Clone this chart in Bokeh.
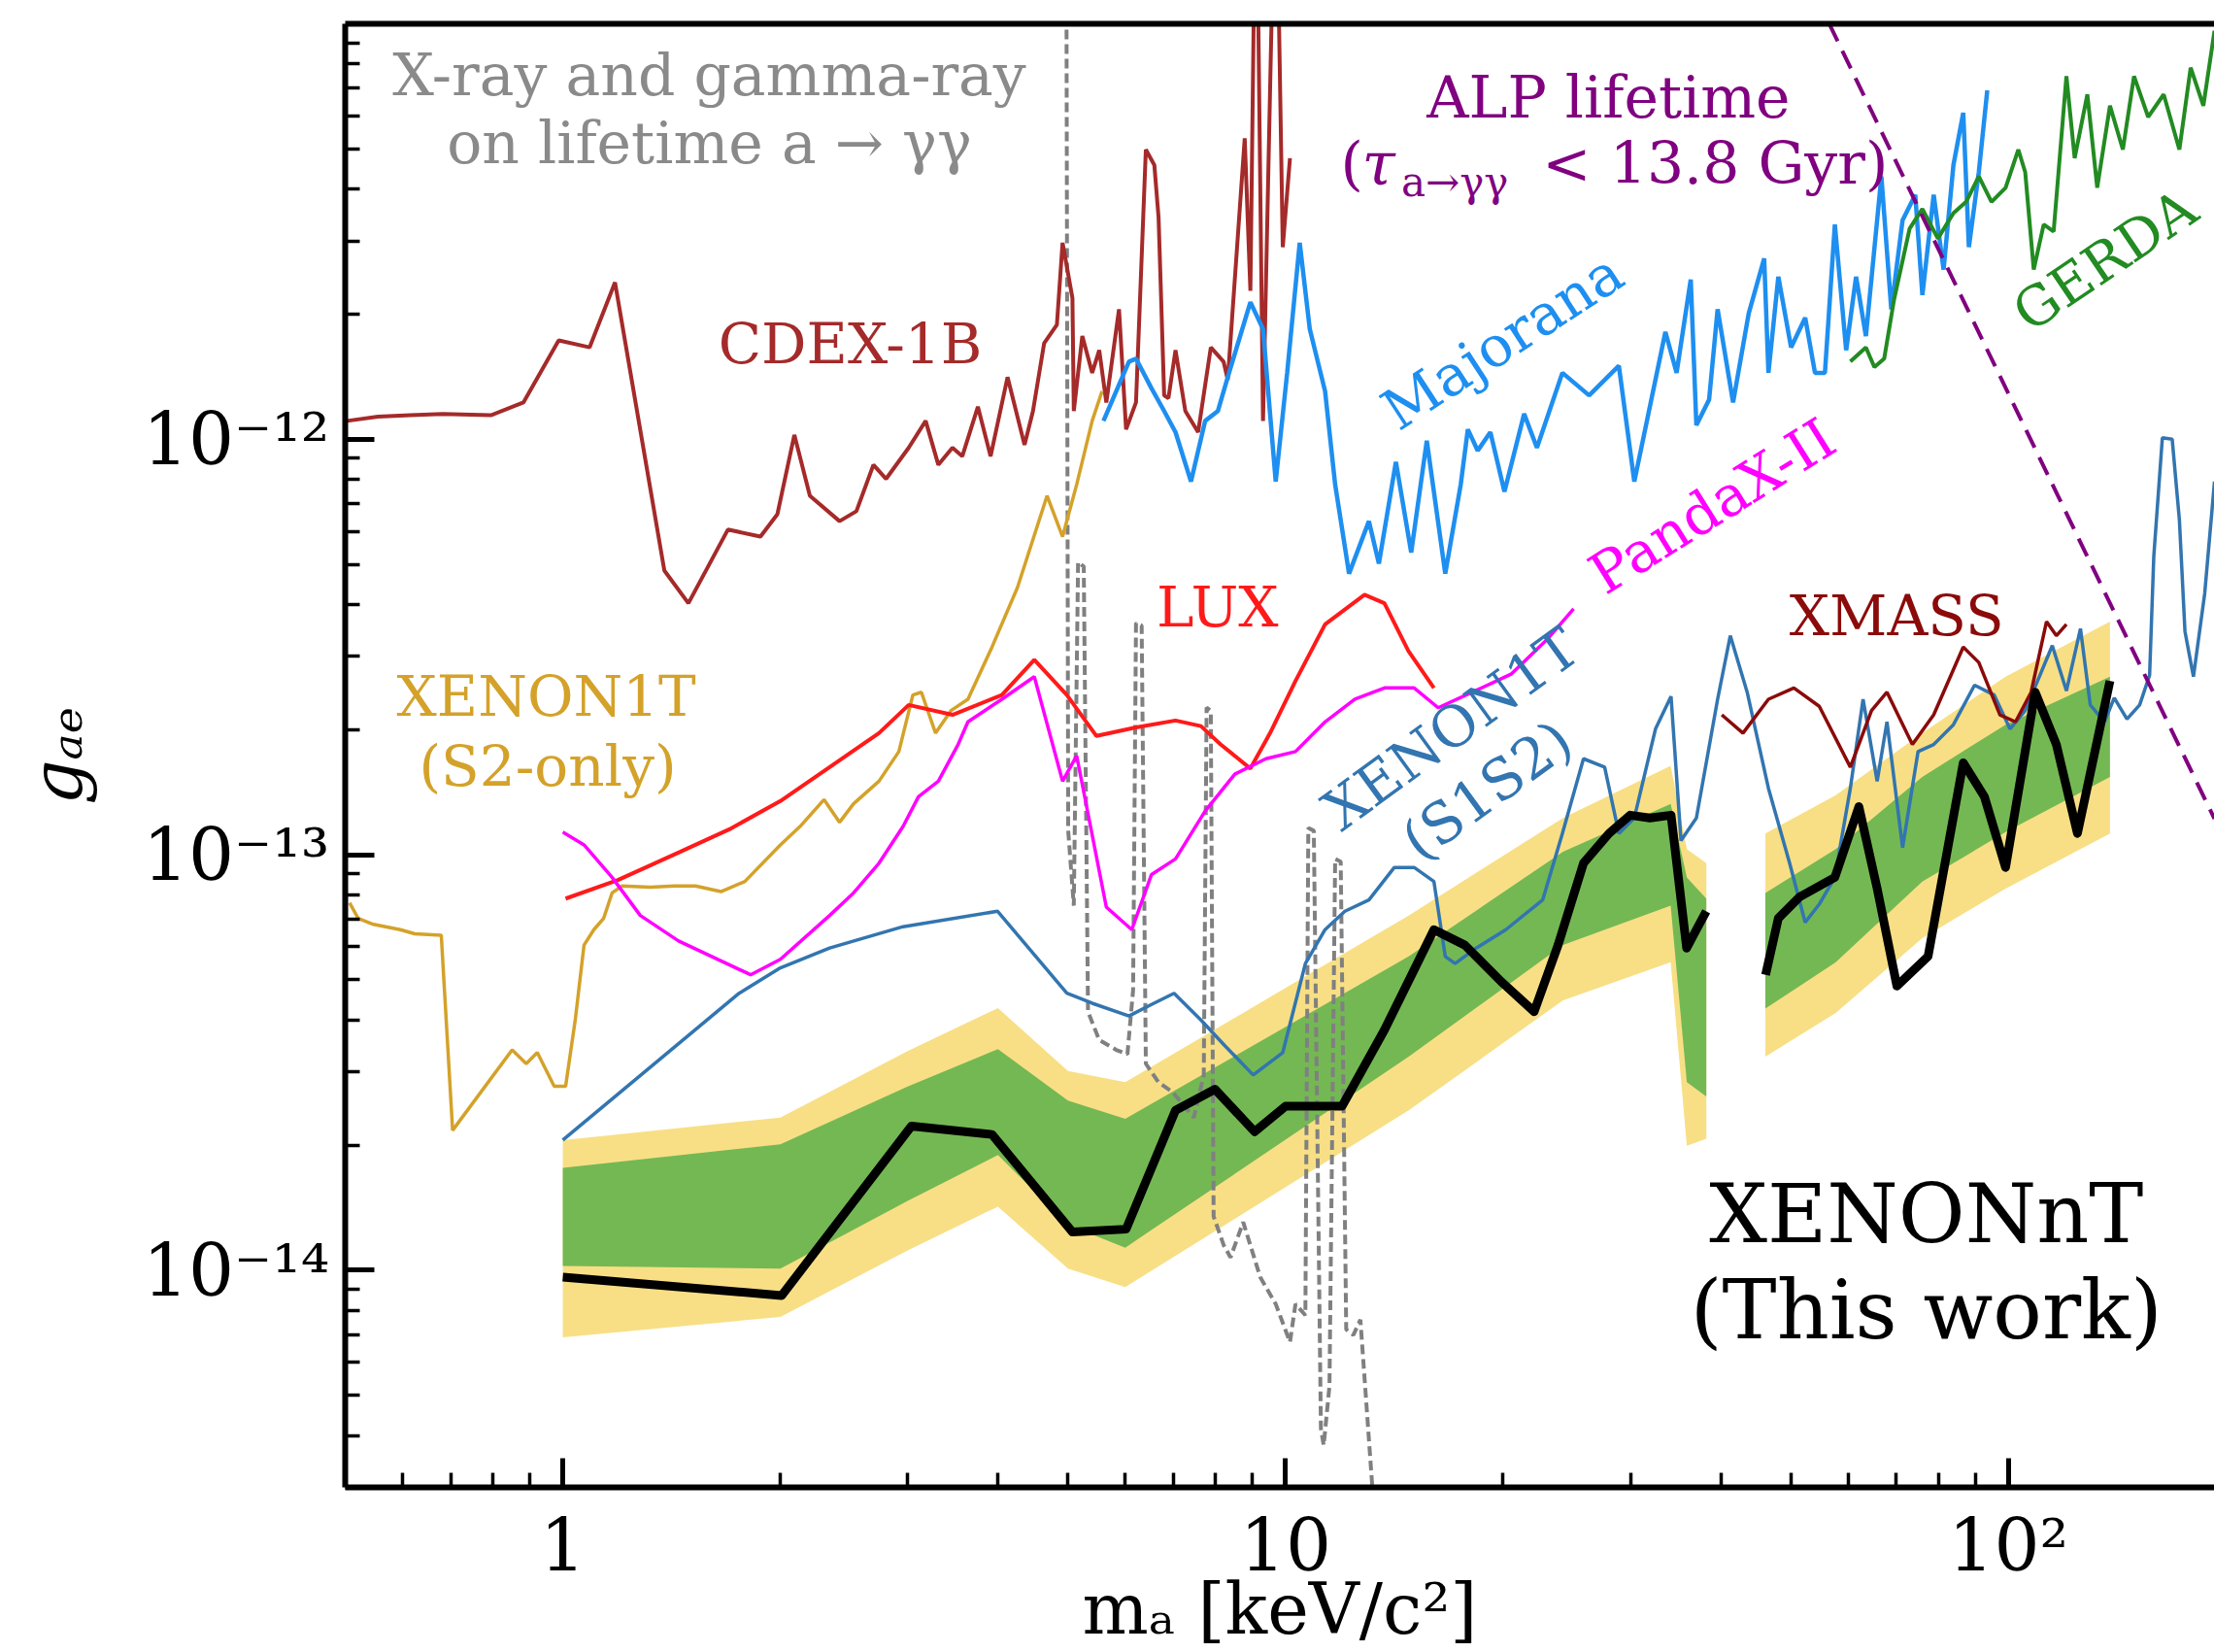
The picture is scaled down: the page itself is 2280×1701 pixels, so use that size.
import math
from bokeh.plotting import figure
from bokeh.models import Label, FixedTicker, CustomJSTickFormatter, LogAxis, Range1d
from bokeh.embed import file_html
from bokeh.resources import INLINE

FONT = "DejaVu Serif"

# ---------------- data (m_a in keV, g_ae) ----------------
CDEX_X = [0.503,0.555,0.615,0.682,0.795,0.882,0.987,1.089,1.181,1.382,1.492,1.692,1.877,1.981,2.091,2.197,2.415,2.548,2.690,2.801,
          3.010,3.177,3.308,3.460,3.570,3.752,3.907,4.124,4.353,4.472,4.634,4.826,4.914,5.071,5.093,5.233,5.400,5.523,5.649,5.882,
          6.016,6.209,6.407,6.583,6.672,6.792,6.885,7.042,7.266,7.568,7.880,8.206,8.317,8.779,8.939,9.101,9.306,9.690,9.910,10.14]
CDEX_Y = [1.107e-12,1.133e-12,1.142e-12,1.151e-12,1.142e-12,1.226e-12,1.730e-12,1.664e-12,2.385e-12,4.83e-13,
          4.03e-13,6.06e-13,5.83e-13,6.60e-13,1.024e-12,7.31e-13,6.35e-13,6.71e-13,8.68e-13,8.03e-13,
          9.54e-13,1.107e-12,8.68e-13,9.54e-13,9.10e-13,1.197e-12,9.10e-13,1.411e-12,9.69e-13,1.169e-12,
          1.703e-12,1.886e-12,2.971e-12,2.188e-12,1.169e-12,1.771e-12,1.445e-12,1.638e-12,1.226e-12,2.055e-12,
          1.056e-12,1.226e-12,4.98e-12,4.57e-12,3.42e-12,1.275e-12,1.255e-12,1.638e-12,1.169e-12,1.040e-12,
          1.664e-12,1.538e-12,1.390e-12,5.30e-12,2.276e-12,3e-11,1.107e-12,3e-11,2.90e-12,4.75e-12]

MAJ_X = [5.598,6.071,6.209,6.524,6.792,7.042,7.398,7.739,8.058,8.317,8.939,9.306,9.690,10.05,10.46,10.80,11.34,11.71,12.24,13.04,
         13.46,14.21,14.92,15.68,16.63,17.47,17.87,18.44,19.20,20.08,21.38,22.27,24.15,26.30,28.91,30.37,33.53,34.75,36.35,37.01,
         38.54,39.60,41.60,43.72,45.93,46.56,48.05,50.04,52.34,54.00,55.74,57.53,59.64,61.55,63.51,66.72,68.86,71.38,74.33,76.03,
         78.82,81.34,83.93,86.60,88.17,91.00,93.49]
MAJ_Y = [1.107e-12,1.538e-12,1.563e-12,1.326e-12,1.169e-12,1.040e-12,7.91e-13,1.107e-12,1.169e-12,1.411e-12,
         2.138e-12,1.842e-12,7.91e-13,1.445e-12,2.971e-12,1.842e-12,1.305e-12,7.78e-13,4.75e-13,6.35e-13,
         5.02e-13,8.82e-13,5.34e-13,9.92e-13,4.75e-13,7.78e-13,1.056e-12,9.39e-13,1.040e-12,7.48e-13,
         1.151e-12,9.54e-13,1.445e-12,1.275e-12,1.503e-12,7.91e-13,1.813e-12,1.445e-12,2.423e-12,1.081e-12,
         1.245e-12,2.055e-12,1.226e-12,2.007e-12,2.725e-12,1.445e-12,2.461e-12,1.664e-12,1.961e-12,1.445e-12,
         1.445e-12,3.289e-12,1.638e-12,2.461e-12,1.771e-12,4.293e-12,2.055e-12,3.367e-12,3.876e-12,2.223e-12,
         3.876e-12,2.560e-12,4.57e-12,6.107e-12,2.90e-12,4.395e-12,6.92e-12]

GERDA_X = [60.44,63.51,65.25,67.32,69.48,73.00,76.03,79.88,83.93,87.40,91.00,94.76,99.10,103.2,105.5,108.4,111.9,115.5,
           120.3,123.5,128.6,132.7,138.2,144.0,149.2,156.1,164.0,172.4,178.7,186.1,192.8]
GERDA_Y = [1.538e-12,1.664e-12,1.491e-12,1.563e-12,2.171e-12,3.213e-12,3.584e-12,3.041e-12,3.501e-12,3.727e-12,
           4.293e-12,3.727e-12,4.031e-12,4.98e-12,4.395e-12,2.560e-12,3.289e-12,3.162e-12,7.48e-12,4.75e-12,
           6.76e-12,4.031e-12,6.35e-12,4.98e-12,7.48e-12,5.965e-12,6.76e-12,4.98e-12,7.84e-12,6.35e-12,9.62e-12]

S2_X = [0.507,0.521,0.545,0.596,0.624,0.679,0.704,0.851,0.890,0.922,0.973,1.009,1.041,1.070,1.104,1.139,1.170,1.208,1.321,1.427,
        1.526,1.655,1.786,2.000,2.129,2.298,2.415,2.525,2.738,2.917,3.050,3.134,3.279,3.444,3.635,3.925,4.256,4.677,4.914,5.140,
        5.400,5.573]
S2_Y = [7.66e-14,7.03e-14,6.81e-14,6.60e-14,6.45e-14,6.40e-14,2.17e-14,3.39e-14,3.14e-14,3.34e-14,
        2.77e-14,2.77e-14,4.03e-14,6.06e-14,6.60e-14,7.03e-14,8.09e-14,8.41e-14,8.35e-14,8.41e-14,
        8.41e-14,8.15e-14,8.62e-14,1.056e-13,1.169e-13,1.357e-13,1.197e-13,1.326e-13,1.503e-13,1.771e-13,
        2.423e-13,2.461e-13,1.962e-13,2.223e-13,2.367e-13,3.162e-13,4.394e-13,7.31e-13,5.83e-13,7.78e-13,
        1.107e-12,1.305e-12]

LUX_X = [1.009,1.192,1.453,1.700,2.000,2.340,2.738,3.010,3.460,4.050,4.491,4.982,5.474,6.209,7.042,7.636,8.131,8.939,9.517,
         10.32,11.34,12.86,13.70,14.79,16.04]
LUX_Y = [7.84e-14,8.69e-14,1.016e-13,1.151e-13,1.346e-13,1.625e-13,1.962e-13,2.293e-13,2.171e-13,2.423e-13,2.946e-13,
         2.423e-13,1.931e-13,2.024e-13,2.104e-13,2.040e-13,1.842e-13,1.612e-13,1.962e-13,2.620e-13,3.584e-13,4.225e-13,
         4.03e-13,3.090e-13,2.520e-13]

PANDAX_X = [1.000,1.070,1.170,1.280,1.446,1.819,2.000,2.340,2.525,2.738,2.956,3.105,3.308,3.523,3.635,4.050,4.491,4.914,
            5.140,5.649,6.126,6.524,7.042,7.739,8.506,9.391,10.32,11.34,12.47,13.70,15.06,16.26,17.95,20.54,22.98,25.03]
PANDAX_Y = [1.133e-13,1.056e-13,8.82e-14,7.14e-14,6.20e-14,5.14e-14,5.60e-14,7.14e-14,8.09e-14,9.54e-14,1.169e-13,
            1.379e-13,1.503e-13,1.842e-13,2.088e-13,2.367e-13,2.683e-13,1.503e-13,1.730e-13,7.48e-14,6.60e-14,8.96e-14,
            9.77e-14,1.274e-13,1.563e-13,1.702e-13,1.771e-13,2.088e-13,2.367e-13,2.520e-13,2.520e-13,2.258e-13,
            2.442e-13,2.725e-13,3.289e-13,3.906e-13]

S1S2_X = [1.000,1.754,2.000,2.340,2.956,3.996,4.982,5.400,6.071,6.524,7.010,7.636,8.241,9.019,9.910,10.65,11.34,12.08,13.04,
          14.14,15.06,16.04,16.63,17.16,18.35,20.17,22.68,24.15,25.83,27.63,28.91,30.37,32.49,34.14,35.24,37.01,39.60,41.23,
          43.51,46.56,49.81,52.34,54.74,57.53,60.44,62.94,65.83,67.92,71.38,74.99,78.82,83.93,89.77,95.60,100.5,105.5,115.0,
          120.3,125.8,129.8,135.8,140.1,145.9,151.9,156.8,158.9,163.3,168.5,172.4,175.5,180.3,186.9,192.8]
S1S2_Y = [2.056e-14,4.64e-14,5.34e-14,5.96e-14,6.71e-14,7.31e-14,4.64e-14,4.39e-14,4.09e-14,4.36e-14,
          4.64e-14,4.00e-14,3.47e-14,2.95e-14,3.34e-14,5.47e-14,6.60e-14,7.31e-14,7.78e-14,9.32e-14,
          9.32e-14,8.62e-14,5.69e-14,5.47e-14,5.96e-14,6.60e-14,7.78e-14,1.125e-13,1.702e-13,1.625e-13,
          1.125e-13,1.226e-13,2.008e-13,2.404e-13,1.081e-13,1.226e-13,2.367e-13,3.366e-13,2.461e-13,1.445e-13,
          9.54e-14,6.87e-14,7.60e-14,8.82e-14,1.445e-13,2.367e-13,1.503e-13,2.088e-13,1.040e-13,1.771e-13,
          1.842e-13,2.056e-13,2.559e-13,2.423e-13,2.008e-13,2.223e-13,3.187e-13,2.480e-13,3.500e-13,2.293e-13,
          2.088e-13,2.385e-13,2.121e-13,2.293e-13,2.704e-13,5.22e-13,1.008e-12,1.0e-12,6.40e-13,3.446e-13,
          2.683e-13,4.258e-13,7.91e-13]

XMASS_X = [40.13,42.93,46.56,50.49,54.74,60.44,64.66,67.92,73.65,78.82,86.60,91.00,97.34,102.3,107.5,112.9,116.5,120.3]
XMASS_Y = [2.171e-13,1.962e-13,2.367e-13,2.520e-13,2.276e-13,1.625e-13,2.223e-13,2.461e-13,1.842e-13,2.171e-13,
           3.162e-13,2.902e-13,2.171e-13,2.088e-13,2.461e-13,3.640e-13,3.366e-13,3.584e-13]

GRAY_X = [4.970,5.003,5.093,5.163,5.257,5.329,5.523,5.829,6.042,6.152,6.209,6.322,6.407,6.672,6.980,7.466,7.705,7.775,7.880,
          7.951,8.206,8.391,8.737,9.223,9.690,10.14,10.32,10.65,10.75,10.94,11.19,11.29,11.50,11.71,11.92,12.13,12.41,12.69,13.22]
GRAY_Y = [3e-11,1.142e-13,7.54e-14,5.06e-13,4.94e-13,4.19e-14,3.58e-14,3.39e-14,3.31e-14,4.72e-14,
          3.61e-13,3.56e-13,3.14e-14,2.83e-14,2.68e-14,2.33e-14,2.95e-14,2.26e-13,2.22e-13,1.347e-14,
          1.151e-14,1.073e-14,1.305e-14,9.62e-15,8.29e-15,6.71e-15,8.29e-15,7.79e-15,1.160e-13,1.142e-13,
          4.16e-15,3.79e-15,5.26e-15,9.77e-14,9.62e-14,7.20e-15,6.98e-15,7.60e-15,2.8e-15]

ALP_X = [56.5, 192.8]
ALP_Y = [1.0e-11, 1.22e-13]

# XENONnT (this work): limit and sensitivity bands, two mass windows
NT1_X = [1.000,2.008,3.036,3.925,5.071,6.016,7.042,7.987,9.060,10.00,11.97,13.70,16.04,17.70,19.90,22.07,23.82,25.83,28.02,
         29.97,31.91,34.14,35.88,37.01,38.19]
NT1_Y = [9.62e-15,8.69e-15,2.222e-14,2.121e-14,1.235e-14,1.255e-14,2.424e-14,2.725e-14,2.154e-14,2.481e-14,2.481e-14,
         3.786e-14,6.60e-14,6.06e-14,4.94e-14,4.19e-14,6.06e-14,9.54e-14,1.125e-13,1.245e-13,1.226e-13,1.245e-13,
         5.96e-14,6.60e-14,7.31e-14]
NT2_X = [46.14,48.05,51.40,57.53,62.10,65.83,70.10,77.42,86.60,92.64,99.10,108.9,116.5,124.6,138.2]
NT2_Y = [5.14e-14,7.03e-14,7.91e-14,8.82e-14,1.305e-13,8.29e-14,4.83e-14,5.69e-14,1.664e-13,1.379e-13,9.32e-14,
         2.461e-13,1.842e-13,1.125e-13,2.620e-13]

BAND1_X = [1.0, 2.0, 3.0, 4.0, 5.0, 6.0, 14.8, 24.2, 34.1, 35.9, 38.2]
SIG2_HI1 = [2.056e-14,2.330e-14,3.366e-14,4.276e-14,3.017e-14,2.834e-14,7.14e-14,1.226e-13,1.637e-13,1.032e-13,9.54e-14]
SIG1_HI1 = [1.763e-14,2.008e-14,2.768e-14,3.405e-14,2.559e-14,2.312e-14,5.69e-14,1.016e-13,1.326e-13,8.82e-14,7.84e-14]
SIG1_LO1 = [1.024e-14,1.008e-14,1.468e-14,1.893e-14,1.285e-14,1.133e-14,3.263e-14,6.06e-14,7.54e-14,2.834e-14,2.620e-14]
SIG2_LO1 = [6.89e-15,7.72e-15,1.116e-14,1.422e-14,1.008e-14,9.10e-15,2.424e-14,4.46e-14,5.51e-14,1.992e-14,2.072e-14]

BAND2_X = [46.1, 57.7, 76.0, 99.1, 138.2]
SIG2_HI2 = [1.125e-13,1.390e-13,1.962e-13,2.683e-13,3.640e-13]
SIG1_HI2 = [8.09e-14,1.032e-13,1.539e-13,2.056e-13,2.683e-13]
SIG1_LO2 = [4.259e-14,5.51e-14,8.62e-14,1.133e-13,1.539e-13]
SIG2_LO2 = [3.263e-14,4.16e-14,6.30e-14,8.29e-14,1.125e-13]

X_MAJOR = [1, 10, 100]
Y_MAJOR = [1e-14, 1e-13, 1e-12]

# ---------------- styles ----------------
C_CDEX = "#a52a2a"
C_MAJ = "#1e8ff0"
C_GERDA = "#228b22"
C_S2 = "#d4a22a"
C_LUX = "#ff1a1a"
C_PANDA = "#ff00ff"
C_S1S2 = "#3275b0"
C_XMASS = "#8b0a0a"
C_GRAY = "#808080"
C_ALP = "#800080"
C_GREEN = "#74b853"
C_YELLOW = "#f8df85"

p = figure(width=2280, height=1701, x_axis_type="log", y_axis_type="log",
           x_range=Range1d(0.5, 192.8), y_range=Range1d(3e-15, 1e-11),
           output_backend="svg", toolbar_location=None,
           min_border_left=355, min_border_right=0, min_border_top=24, min_border_bottom=170)
p.outline_line_color = None
p.grid.visible = False
p.background_fill_color = "white"
p.border_fill_color = "white"

fmt = CustomJSTickFormatter(code=r"""
const sup = {"-": "\u207b", "0": "\u2070", "1": "\u00b9", "2": "\u00b2", "3": "\u00b3",
             "4": "\u2074", "5": "\u2075", "6": "\u2076", "7": "\u2077", "8": "\u2078", "9": "\u2079"};
const e = Math.round(Math.log10(tick));
if (e === 0) return "1";
if (e === 1) return "10";
return "10" + String(e).split("").map(c => sup[c]).join("");
""")

x_minor = [0.6, 0.7, 0.8, 0.9] + [float(k) for k in range(2, 10)] + [10.0 * k for k in range(2, 10)]
y_minor = [m * 10.0 ** e for e in (-15, -14, -13, -12) for m in range(2, 10) if 3e-15 < m * 10.0 ** e < 1e-11]

p.xaxis.ticker = FixedTicker(ticks=X_MAJOR, minor_ticks=x_minor)
p.yaxis.ticker = FixedTicker(ticks=Y_MAJOR, minor_ticks=y_minor)
for ax in (p.xaxis[0], p.yaxis[0]):
    ax.formatter = fmt
    ax.axis_line_width = 6
    ax.axis_line_color = "black"
    ax.major_tick_in = 30
    ax.major_tick_out = 0
    ax.major_tick_line_width = 5
    ax.minor_tick_in = 15
    ax.minor_tick_out = 0
    ax.minor_tick_line_width = 3.5
    ax.major_label_text_font = FONT
    ax.major_label_text_font_size = "74px"
    ax.major_label_text_color = "black"
    ax.axis_label_text_font = FONT
    ax.axis_label_text_font_size = "72px"
    ax.axis_label_text_color = "black"
p.xaxis.major_label_standoff = 16
p.yaxis.major_label_standoff = 16
p.xaxis.axis_label = "m\u2090 [keV/c\u00b2]"
p.xaxis.axis_label_text_font_style = "normal"
p.xaxis.axis_label_standoff = -22
p.yaxis.axis_label = "g\u2090\u2091"
p.yaxis.axis_label_text_font_style = "italic"
p.yaxis.axis_label_standoff = 43

top_axis = LogAxis(ticker=FixedTicker(ticks=[]), axis_line_width=6, axis_line_color="black",
                   major_tick_in=0, major_tick_out=0, minor_tick_in=0, minor_tick_out=0,
                   major_label_text_font_size="0px", major_label_standoff=0)
p.add_layout(top_axis, "above")

# bands
p.varea(x=BAND1_X, y1=SIG2_LO1, y2=SIG2_HI1, fill_color=C_YELLOW)
p.varea(x=BAND1_X, y1=SIG1_LO1, y2=SIG1_HI1, fill_color=C_GREEN)
p.varea(x=BAND2_X, y1=SIG2_LO2, y2=SIG2_HI2, fill_color=C_YELLOW)
p.varea(x=BAND2_X, y1=SIG1_LO2, y2=SIG1_HI2, fill_color=C_GREEN)

# curves
p.line(GRAY_X, GRAY_Y, line_color=C_GRAY, line_width=4, line_dash="10 5")
p.line(CDEX_X, CDEX_Y, line_color=C_CDEX, line_width=4)
p.line(S2_X, S2_Y, line_color=C_S2, line_width=3.5)
p.line(MAJ_X, MAJ_Y, line_color=C_MAJ, line_width=4.5)
p.line(GERDA_X, GERDA_Y, line_color=C_GERDA, line_width=4)
p.line(LUX_X, LUX_Y, line_color=C_LUX, line_width=4)
p.line(PANDAX_X, PANDAX_Y, line_color=C_PANDA, line_width=3.5)
p.line(S1S2_X, S1S2_Y, line_color=C_S1S2, line_width=3.5)
p.line(XMASS_X, XMASS_Y, line_color=C_XMASS, line_width=3.5)
p.line(ALP_X, ALP_Y, line_color=C_ALP, line_width=4, line_dash="20 11")
p.line(NT1_X, NT1_Y, line_color="black", line_width=9, line_join="round")
p.line(NT2_X, NT2_Y, line_color="black", line_width=9, line_join="round")


def lab(x, y, text, color, size, angle=0.0, align="center", baseline="middle", style="normal"):
    p.add_layout(Label(x=x, y=y, text=text, text_color=color, text_font=FONT,
                       text_font_size=f"{size}px", angle=math.radians(angle),
                       text_align=align, text_baseline=baseline, text_font_style=style))


lab(1.595, 7.53e-12, "X-ray and gamma-ray", "#8a8a8a", 60)
lab(1.595, 5.18e-12, "on lifetime a \u2192 \u03b3\u03b3", "#8a8a8a", 60)
lab(27.97, 6.65e-12, "ALP lifetime", C_ALP, 60)
lab(11.91, 4.61e-12, "(", C_ALP, 60, align="left")
lab(12.75, 4.61e-12, "\u03c4", C_ALP, 62, align="left", style="italic")
lab(14.45, 4.15e-12, "a\u2192\u03b3\u03b3", C_ALP, 42, align="left")
lab(22.66, 4.61e-12, "< 13.8 Gyr)", C_ALP, 60, align="left")
lab(2.498, 1.694e-12, "CDEX-1B", C_CDEX, 58)
lab(19.96, 1.72e-12, "Majorana", C_MAJ, 58, angle=33)
lab(136.0, 2.70e-12, "GERDA", C_GERDA, 56, angle=34)
lab(38.94, 6.90e-13, "PandaX-II", C_PANDA, 58, angle=32)
lab(8.05, 3.94e-13, "LUX", C_LUX, 58)
lab(0.949, 2.40e-13, "XENON1T", C_S2, 58)
lab(0.953, 1.63e-13, "(S2-only)", C_S2, 58)
lab(16.94, 2.01e-13, "XENON1T", C_S1S2, 58, angle=36)
lab(19.0, 1.43e-13, "(S1S2)", C_S1S2, 58, angle=36)
lab(70.07, 3.76e-13, "XMASS", C_XMASS, 58)
lab(77.0, 1.362e-14, "XENONnT", "black", 84)
lab(77.0, 8.02e-15, "(This work)", "black", 84)

open("out.html", "w").write(file_html(p, INLINE))
